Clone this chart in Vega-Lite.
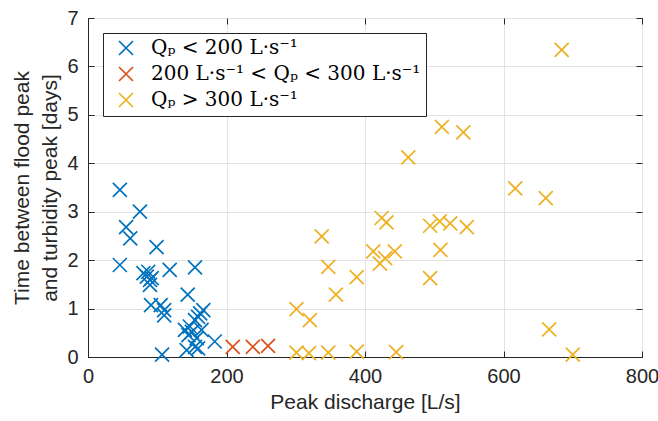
{
  "$schema": "https://vega.github.io/schema/vega-lite/v6.json",
  "width": 554,
  "height": 339,
  "autosize": {"type": "none"},
  "padding": {"left": 88, "top": 18, "right": 16, "bottom": 64},
  "background": "white",
  "config": {
    "view": {"stroke": "#262626", "strokeWidth": 1},
    "font": "Liberation Sans"
  },
  "data": {
    "values": [
      {"q": 46, "t": 3.45, "g": "A"},
      {"q": 75, "t": 3.00, "g": "A"},
      {"q": 55, "t": 2.68, "g": "A"},
      {"q": 61, "t": 2.45, "g": "A"},
      {"q": 46, "t": 1.90, "g": "A"},
      {"q": 99, "t": 2.27, "g": "A"},
      {"q": 80, "t": 1.73, "g": "A"},
      {"q": 87, "t": 1.76, "g": "A"},
      {"q": 85, "t": 1.66, "g": "A"},
      {"q": 89.5, "t": 1.59, "g": "A"},
      {"q": 89.5, "t": 1.49, "g": "A"},
      {"q": 92, "t": 1.63, "g": "A"},
      {"q": 118, "t": 1.80, "g": "A"},
      {"q": 154.5, "t": 1.85, "g": "A"},
      {"q": 91, "t": 1.07, "g": "A"},
      {"q": 105, "t": 1.07, "g": "A"},
      {"q": 110, "t": 0.97, "g": "A"},
      {"q": 110, "t": 0.86, "g": "A"},
      {"q": 107, "t": 0.05, "g": "A"},
      {"q": 144, "t": 1.29, "g": "A"},
      {"q": 166.5, "t": 0.97, "g": "A"},
      {"q": 162, "t": 0.90, "g": "A"},
      {"q": 159, "t": 0.83, "g": "A"},
      {"q": 154.5, "t": 0.76, "g": "A"},
      {"q": 147, "t": 0.63, "g": "A"},
      {"q": 140, "t": 0.56, "g": "A"},
      {"q": 150, "t": 0.52, "g": "A"},
      {"q": 164, "t": 0.56, "g": "A"},
      {"q": 145, "t": 0.45, "g": "A"},
      {"q": 157, "t": 0.39, "g": "A"},
      {"q": 183, "t": 0.32, "g": "A"},
      {"q": 142.5, "t": 0.14, "g": "A"},
      {"q": 154.5, "t": 0.21, "g": "A"},
      {"q": 159, "t": 0.18, "g": "A"},
      {"q": 209, "t": 0.21, "g": "B"},
      {"q": 238, "t": 0.21, "g": "B"},
      {"q": 260, "t": 0.23, "g": "B"},
      {"q": 301, "t": 0.99, "g": "C"},
      {"q": 320.5, "t": 0.76, "g": "C"},
      {"q": 337.5, "t": 2.49, "g": "C"},
      {"q": 347, "t": 1.86, "g": "C"},
      {"q": 358, "t": 1.29, "g": "C"},
      {"q": 388, "t": 1.65, "g": "C"},
      {"q": 301, "t": 0.09, "g": "C"},
      {"q": 319, "t": 0.08, "g": "C"},
      {"q": 347, "t": 0.09, "g": "C"},
      {"q": 388, "t": 0.11, "g": "C"},
      {"q": 412, "t": 2.18, "g": "C"},
      {"q": 421.5, "t": 1.93, "g": "C"},
      {"q": 429, "t": 2.04, "g": "C"},
      {"q": 443, "t": 2.18, "g": "C"},
      {"q": 424, "t": 2.87, "g": "C"},
      {"q": 431, "t": 2.78, "g": "C"},
      {"q": 462.5, "t": 4.12, "g": "C"},
      {"q": 494, "t": 2.71, "g": "C"},
      {"q": 508, "t": 2.80, "g": "C"},
      {"q": 523, "t": 2.76, "g": "C"},
      {"q": 547, "t": 2.68, "g": "C"},
      {"q": 509, "t": 2.21, "g": "C"},
      {"q": 494, "t": 1.63, "g": "C"},
      {"q": 445, "t": 0.10, "g": "C"},
      {"q": 511, "t": 4.75, "g": "C"},
      {"q": 542, "t": 4.64, "g": "C"},
      {"q": 617, "t": 3.48, "g": "C"},
      {"q": 661, "t": 3.28, "g": "C"},
      {"q": 684, "t": 6.34, "g": "C"},
      {"q": 666, "t": 0.57, "g": "C"},
      {"q": 700, "t": 0.05, "g": "C"}
    ]
  },
  "layer": [
    {
      "mark": {
        "type": "point",
        "shape": "M-1,-1L1,1M-1,1L1,-1",
        "filled": false,
        "size": 196,
        "strokeWidth": 1.7,
        "opacity": 1,
        "clip": false
      },
      "encoding": {
        "x": {
          "field": "q",
          "type": "quantitative",
          "scale": {"domain": [0, 800], "nice": false, "zero": false},
          "axis": {
            "title": "Peak discharge [L/s]",
            "values": [0, 200, 400, 600, 800],
            "labelFontSize": 20,
            "titleFontSize": 21,
            "titleFontWeight": "normal",
            "labelColor": "#262626",
            "titleColor": "#262626",
            "domainColor": "#262626",
            "tickColor": "#262626",
            "tickSize": -6,
            "labelPadding": 15,
            "titlePadding": 5,
            "gridColor": "#e3e3e3",
            "labelFlush": false
          }
        },
        "y": {
          "field": "t",
          "type": "quantitative",
          "scale": {"domain": [0, 7], "nice": false, "zero": false},
          "axis": {
            "title": ["Time between flood peak", "and turbidity peak [days]"],
            "values": [0, 1, 2, 3, 4, 5, 6, 7],
            "labelFontSize": 20,
            "titleFontSize": 21,
            "titleFontWeight": "normal",
            "titleLineHeight": 28,
            "labelColor": "#262626",
            "titleColor": "#262626",
            "domainColor": "#262626",
            "tickColor": "#262626",
            "tickSize": -6,
            "labelPadding": 16,
            "titlePadding": 6,
            "gridColor": "#e3e3e3",
            "labelFlush": false
          }
        },
        "color": {
          "field": "g",
          "type": "nominal",
          "scale": {
            "domain": ["A", "B", "C"],
            "range": ["#0072BD", "#D95319", "#EDB120"]
          },
          "legend": {
            "orient": "none",
            "legendX": 15,
            "legendY": 15,
            "title": null,
            "labelExpr": "datum.value == 'A' ? 'Qₚ < 200 L·s⁻¹' : datum.value == 'B' ? '200 L·s⁻¹ < Qₚ < 300 L·s⁻¹' : 'Qₚ > 300 L·s⁻¹'",
            "labelFont": "DejaVu Serif",
            "labelFontSize": 20,
            "labelLimit": 600,
            "labelColor": "#000000",
            "labelOffset": 15,
            "symbolType": "M-1,-1L1,1M-1,1L1,-1",
            "symbolSize": 196,
            "symbolStrokeWidth": 1.7,
            "symbolOffset": 8,
            "strokeColor": "#262626",
            "fillColor": "white",
            "padding": 5,
            "rowPadding": 4,
            "cornerRadius": 0
          }
        }
      }
    },
    {
      "mark": {"type": "rule", "opacity": 0},
      "encoding": {
        "x": {
          "datum": 0,
          "type": "quantitative",
          "axis": {
            "orient": "top",
            "values": [0, 200, 400, 600, 800],
            "labels": false,
            "domain": false,
            "grid": false,
            "title": null,
            "tickSize": -6,
            "tickColor": "#262626"
          }
        },
        "y": {
          "datum": 0,
          "type": "quantitative",
          "axis": {
            "orient": "right",
            "values": [0, 1, 2, 3, 4, 5, 6, 7],
            "labels": false,
            "domain": false,
            "grid": false,
            "title": null,
            "tickSize": -6,
            "tickColor": "#262626"
          }
        }
      }
    }
  ],
  "resolve": {"axis": {"x": "independent", "y": "independent"}}
}
